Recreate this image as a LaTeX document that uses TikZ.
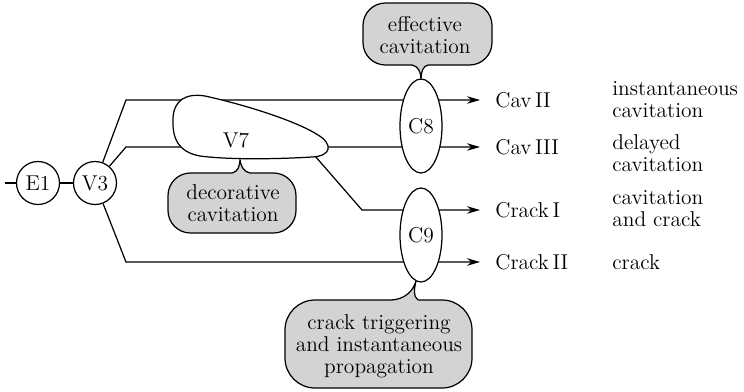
\documentclass[tikz,border=0pt]{standalone}
\usepackage{tikz}
\usetikzlibrary{arrows.meta,positioning,calc,shapes.geometric,backgrounds}
\definecolor{Bubble}{HTML}{D3D3D3}

\begin{document}
\begin{tikzpicture}[x=0.02cm,y=-0.02cm,font=\fontsize{12.2pt}{12.6pt}\selectfont]
    \tikzset{state/.style={circle,draw,line width=0.7pt,fill=white,
      minimum size=0.86cm,inner sep=0pt},
      gate/.style={ellipse,draw,line width=0.7pt,fill=white,
      minimum width=0.84cm,minimum height=1.88cm,inner sep=0pt},
      wire/.style={line width=0.7pt},
      flow/.style={wire,-{Stealth[length=2.6mm,width=1.5mm]}},
      outcome/.style={anchor=west,inner xsep=0.3cm,inner ysep=0pt},
      remark/.style={anchor=west,inner sep=0pt,align=left},
      bubble/.style={draw,line width=0.7pt,fill=Bubble,rounded corners=0.45cm},
      note/.style={align=center,inner sep=0pt}}
    \useasboundingbox (0,0) rectangle (744,392);

    \node[state] (E1) at (38,183) {E1};
    \node[state] (V3) at (95,183) {V3};
    \node[gate] (C8) at (421,126) {C8};
    \node[gate] (C9) at (421,235) {C9};
    \coordinate (in) at (5,183);
    \coordinate (V7out) at (315,156);

    % Outcomes
    \node[outcome] (cav2) at (480,100) {Cav\,II};
    \node[outcome] (cav3) at (480,147) {Cav\,III};
    \node[outcome] (crack1) at (480,210) {Crack\,I};
    \node[outcome] (crack2) at (480,262) {Crack\,II};
    \node[remark] (r1) at (612,100) {instantaneous\\cavitation};
    \node[remark] (r2) at (612,153) {delayed\\cavitation};
    \node[remark] (r3) at (612,209) {cavitation\\and crack};
    \node[remark] (r4) at (612,262) {crack};

    % Branches
    \draw[wire] (in) -- (E1) -- (V3);
    \begin{scope}[on background layer]
      \draw[flow] (V3) -- (126,100) -- (cav2);
      \draw[flow] (V3) -- (126,147) -- (cav3);
      \draw[flow] (V7out) -- (362,210) -- (crack1);
      \draw[flow] (V3) -- (126,262) -- (crack2);
    \end{scope}

    % V7
    \draw[wire,fill=white] (205,96) .. controls (250,106) and (298,122) .. (318,135)
      .. controls (333,144) and (332,156) .. (312,157)
      .. controls (280,159) and (230,160) .. (200,156)
      .. controls (178,152) and (172,138) .. (173,118)
      .. controls (174,100) and (186,93) .. (205,96) -- cycle;
    \node (V7) at (236,140) {V7};

    % Effective cavitation
    \draw[bubble] (363,3) rectangle (492,65);
    \fill[Bubble] (412,65) .. controls (418,66) and (421,72) .. (421,79)
      .. controls (421,72) and (423,66) .. (428,65) -- (428,62) -- (412,62) -- cycle;
    \draw[wire] (412,65) .. controls (418,66) and (421,72) .. (421,79)
      .. controls (421,72) and (423,66) .. (428,65);
    \node[note] (effective) at (425,35) {effective\\cavitation};

    % Decorative cavitation
    \draw[bubble] (168,173) rectangle (296,233);
    \fill[Bubble] (232,173) .. controls (238,172) and (240,166) .. (240,158)
      .. controls (240,166) and (244,172) .. (250,173) -- (250,176) -- (232,176) -- cycle;
    \draw[wire] (232,173) .. controls (238,172) and (240,166) .. (240,158)
      .. controls (240,166) and (244,172) .. (250,173);
    \node[note] (decorative) at (233,203) {decorative\\cavitation};

    % Crack triggering
    \draw[bubble,rounded corners=0.6cm] (285,300) rectangle (472,388);
    \fill[Bubble] (392,300) .. controls (404,299) and (413,292) .. (416,281)
      .. controls (414,290) and (413,296) .. (418,300) -- (418,303) -- (392,303) -- cycle;
    \draw[wire] (392,300) .. controls (404,299) and (413,292) .. (416,281)
      .. controls (414,290) and (413,296) .. (418,300);
    \node[note] (trigger) at (379,346) {crack triggering\\and instantaneous\\propagation};
  \end{tikzpicture}
\end{document}
